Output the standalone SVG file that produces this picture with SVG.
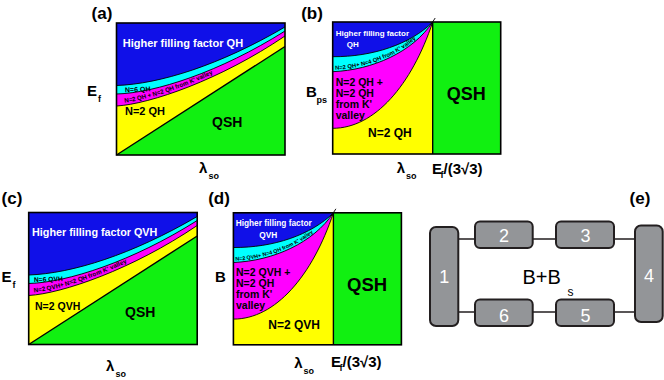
<svg xmlns="http://www.w3.org/2000/svg" width="664" height="380" viewBox="0 0 664 380">
<style>
text { font-family: "Liberation Sans", Arial, Helvetica, sans-serif; }
.b { font-weight: bold; }
.w { fill: #ffffff; }
.ln { fill: none; stroke: #000; stroke-width: 0.9; }
.thick { fill: none; stroke: #000; stroke-width: 1.4; }
.frame { fill: none; stroke: #000; stroke-width: 1.6; }
.blue { fill: #1010e8; }
.cyan { fill: #00ffff; }
.mag { fill: #ff00ff; }
.yel { fill: #ffff00; }
.grn { fill: #11f011; }
.box { fill: #939598; stroke: #231f20; stroke-width: 2; }
.wire { fill: none; stroke: #231f20; stroke-width: 1.6; }
.num { fill: #ffffff; font-size: 18px; text-anchor: middle; }
</style>
<defs>
  <g id="phaseE">
    <rect class="blue" x="0" y="0" width="168.5" height="132"/>
    <path class="cyan" d="M0,62.5 C43.5,61 103.5,42 168.5,4 V132 H0 Z"/>
    <path class="mag" d="M0,71 C38.5,70 103.5,49 168.5,8 V132 H0 Z"/>
    <path class="yel" d="M0,83 C33.5,81 103.5,57 168.5,13 V132 H0 Z"/>
    <path class="grn" d="M0,132 L168.5,23.5 V132 Z"/>
    <path class="ln" d="M0,62.5 C43.5,61 103.5,42 168.5,4"/>
    <path class="ln" d="M0,71 C38.5,70 103.5,49 168.5,8"/>
    <path class="ln" d="M0,83 C33.5,81 103.5,57 168.5,13"/>
    <path class="thick" d="M0,132 L168.5,23.5"/>
    <rect class="frame" x="0" y="0" width="168.5" height="132"/>
  </g>
  <g id="phaseB">
    <rect class="blue" x="0" y="0" width="100" height="132"/>
    <path class="cyan" d="M0,34.7 C40,35 78,22 100,0 V132 H0 Z"/>
    <path class="mag" d="M0,49.7 C40,48 80,30 100,0 V132 H0 Z"/>
    <path class="yel" d="M0,106.3 C42,106.3 79,63 100,0 V132 H0 Z"/>
    <rect class="grn" x="100" y="0" width="68" height="132"/>
    <path class="ln" d="M0,34.7 C40,35 78,22 100,0"/>
    <path class="ln" d="M0,49.7 C40,48 80,30 100,0"/>
    <path class="ln" d="M0,106.3 C42,106.3 79,63 100,0"/>
    <path class="ln" d="M98,3 L102.5,-4"/>
    <path class="thick" d="M100,0 V132"/>
    <rect class="frame" x="0" y="0" width="168" height="132"/>
  </g>
  <path id="tpA" d="M116.5,103.5 C150,101.5 220,77.5 285,33.5"/>
  <path id="tpC" d="M28.7,293 C62.2,291 132.2,267 197.2,223"/>
  <path id="tpB" d="M332.7,70 C372.7,68.3 412.7,50.3 432.7,20.3"/>
  <path id="tpD" d="M233.4,260.8 C273.4,259.1 313.4,241.1 333.4,211.1"/>
</defs>

<g id="panel-a">
  <use href="#phaseE" x="116.5" y="23"/>
  <text class="b" x="102" y="18.5" font-size="17" text-anchor="middle">(a)</text>
  <text class="b w" x="122.7" y="47" font-size="11">Higher filling factor QH</text>
  <text class="b" x="125" y="92.3" font-size="7" transform="rotate(-2 125 92.3)">N=6 QH</text>
  <text class="b" font-size="6.4"><textPath href="#tpA" startOffset="8.5" textLength="93" lengthAdjust="spacingAndGlyphs">N=2 QH + N=2 QH from K' valley</textPath></text>
  <text class="b" x="125" y="115" font-size="11">N=2 QH</text>
  <text class="b" x="212" y="127" font-size="14">QSH</text>
  <text class="b" x="87" y="96" font-size="15">E</text>
  <text class="b" x="98" y="101.5" font-size="9">f</text>
  <text class="b" x="199" y="173" font-size="15">λ</text>
  <text class="b" x="208.5" y="178.5" font-size="9">so</text>
</g>

<g id="panel-b">
  <use href="#phaseB" x="332.7" y="22"/>
  <text class="b" x="312" y="18.5" font-size="17" text-anchor="middle">(b)</text>
  <text class="b w" x="335.7" y="36.3" font-size="8">Higher filling factor</text>
  <text class="b w" x="346.7" y="47.3" font-size="8">QH</text>
  <text class="b" font-size="5.8"><textPath href="#tpB" startOffset="2.5" textLength="88" lengthAdjust="spacingAndGlyphs">N=2 QH+ N=4 QH from K' valley</textPath></text>
  <text class="b" x="335.7" y="85.5" font-size="10.5">N=2 QH +</text>
  <text class="b" x="335.7" y="96.5" font-size="10.5">N=2 QH</text>
  <text class="b" x="335.7" y="107.5" font-size="10.5">from K'</text>
  <text class="b" x="335.7" y="118.5" font-size="10.5">valley</text>
  <text class="b" x="368" y="137" font-size="12">N=2 QH</text>
  <text class="b" x="446.7" y="100" font-size="18">QSH</text>
  <text class="b" x="306" y="96.5" font-size="15">B</text>
  <text class="b" x="316.5" y="102.5" font-size="9">ps</text>
  <text class="b" x="396.7" y="173" font-size="15">λ</text>
  <text class="b" x="406" y="178.5" font-size="9">so</text>
  <text class="b" x="432" y="173.5" font-size="15">E</text>
  <text class="b" x="440.5" y="177.5" font-size="9">f</text>
  <text class="b" x="443.5" y="173.5" font-size="15">/(3√3)</text>
</g>

<g id="panel-c">
  <use href="#phaseE" x="28.7" y="212.5"/>
  <text class="b" x="12" y="204" font-size="17" text-anchor="middle">(c)</text>
  <text class="b w" x="32" y="235.5" font-size="10.8">Higher filling factor QVH</text>
  <text class="b" x="34" y="282" font-size="6.7" transform="rotate(-2 34 282)">N=6 QVH</text>
  <text class="b" font-size="6.3"><textPath href="#tpC" startOffset="5.5" textLength="98" lengthAdjust="spacingAndGlyphs">N=2 QVH+ N=2 QH from K' valley</textPath></text>
  <text class="b" x="35" y="309.5" font-size="10.5">N=2 QVH</text>
  <text class="b" x="125" y="317" font-size="14">QSH</text>
  <text class="b" x="1.5" y="282" font-size="15">E</text>
  <text class="b" x="12.5" y="287.5" font-size="9">f</text>
  <text class="b" x="106" y="371" font-size="15">λ</text>
  <text class="b" x="115.5" y="376.5" font-size="9">so</text>
</g>

<g id="panel-d">
  <use href="#phaseB" x="233.4" y="212.8"/>
  <text class="b" x="219" y="204" font-size="17" text-anchor="middle">(d)</text>
  <text class="b w" x="235.7" y="226" font-size="8.3">Higher filling factor</text>
  <text class="b w" x="259.3" y="237.5" font-size="8.3">QVH</text>
  <text class="b" font-size="5.4"><textPath href="#tpD" startOffset="2" textLength="84" lengthAdjust="spacingAndGlyphs">N=2 QVH+ N=4 QH from K' valley</textPath></text>
  <text class="b" x="236" y="275.5" font-size="10.5">N=2 QVH +</text>
  <text class="b" x="236" y="286.5" font-size="10.5">N=2 QH</text>
  <text class="b" x="236" y="297.5" font-size="10.5">from K'</text>
  <text class="b" x="236" y="308.5" font-size="10.5">valley</text>
  <text class="b" x="268.3" y="329" font-size="12">N=2 QVH</text>
  <text class="b" x="347" y="291" font-size="18.5">QSH</text>
  <text class="b" x="215" y="282" font-size="15">B</text>
  <text class="b" x="294.3" y="368" font-size="15">λ</text>
  <text class="b" x="303.5" y="373.5" font-size="9">so</text>
  <text class="b" x="331" y="367" font-size="15">E</text>
  <text class="b" x="339.5" y="371" font-size="9">f</text>
  <text class="b" x="342.5" y="367" font-size="15">/(3√3)</text>
</g>

<g id="panel-e">
  <text class="b" x="640" y="204" font-size="17" text-anchor="middle">(e)</text>
  <g id="connectors">
    <path class="wire" d="M458,239 H475 M532.7,239 H556 M614,239 H635 M458,312 H475 M532.7,312 H556 M614,312 H635"/>
  </g>
  <g id="node-1"><rect class="box" x="430" y="227" width="28.3" height="99" rx="6"/><text class="num" x="444.2" y="283" font-size="25">1</text></g>
  <g id="node-2"><rect class="box" x="475" y="221.5" width="57.7" height="26.5" rx="5"/><text class="num" x="504" y="242">2</text></g>
  <g id="node-3"><rect class="box" x="556" y="221.5" width="58" height="26.5" rx="5"/><text class="num" x="585.5" y="242">3</text></g>
  <g id="node-4"><rect class="box" x="635" y="225.5" width="27.7" height="96.5" rx="6"/><text class="num" x="649" y="282" font-size="24">4</text></g>
  <g id="node-5"><rect class="box" x="556" y="299.5" width="58" height="26.5" rx="5"/><text class="num" x="585.5" y="321.5">5</text></g>
  <g id="node-6"><rect class="box" x="475" y="299.5" width="57.7" height="26.5" rx="5"/><text class="num" x="504" y="321.5">6</text></g>
  <g id="field-label">
    <text x="522.5" y="283.5" font-size="20">B+B</text>
    <text x="567.5" y="295.5" font-size="12">s</text>
  </g>
</g>
</svg>
